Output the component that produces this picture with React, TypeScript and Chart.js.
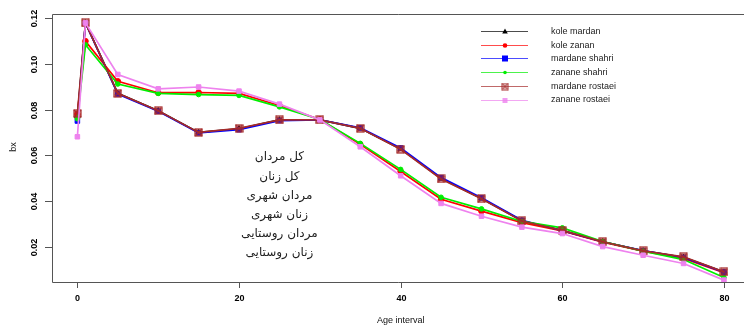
import React, { useEffect, useRef } from 'react';
import { Chart, registerables } from 'chart.js';
Chart.register(...registerables);

const ages = [0, 1, 5, 10, 15, 20, 25, 30, 35, 40, 45, 50, 55, 60, 65, 70, 75, 80];

const koleMardan = [0.077, 0.118, 0.0871, 0.0795, 0.07, 0.0716, 0.0755, 0.0755, 0.0718, 0.0628, 0.0498, 0.0411, 0.0313, 0.027, 0.0221, 0.0181, 0.0153, 0.0088];
const koleZanan = [0.078, 0.11, 0.0924, 0.0874, 0.0875, 0.0871, 0.0818, 0.0757, 0.0648, 0.0529, 0.0407, 0.0355, 0.0305, 0.0268, 0.0219, 0.018, 0.0148, 0.0086];
const mardaneShahri = [0.075, 0.118, 0.0868, 0.0793, 0.0698, 0.0712, 0.0752, 0.0755, 0.072, 0.0632, 0.0502, 0.0414, 0.0315, 0.027, 0.0221, 0.0182, 0.0152, 0.0088];
const zananeShahri = [0.076, 0.1084, 0.0912, 0.0871, 0.0866, 0.0862, 0.0812, 0.0757, 0.0652, 0.0538, 0.0416, 0.0365, 0.031, 0.0282, 0.0222, 0.018, 0.0143, 0.0064];
const mardaneRostaei = [0.0783, 0.118, 0.0871, 0.0795, 0.07, 0.0718, 0.0755, 0.0755, 0.0718, 0.0626, 0.0496, 0.0409, 0.0312, 0.0271, 0.0221, 0.0181, 0.0155, 0.0089];
const zananeRostaei = [0.0681, 0.118, 0.0954, 0.0891, 0.0899, 0.0881, 0.0824, 0.0755, 0.0637, 0.051, 0.0389, 0.0333, 0.0285, 0.0257, 0.02, 0.0162, 0.0126, 0.0053];

const seriesNames = ['kole mardan', 'kole zanan', 'mardane shahri', 'zanane shahri', 'mardane rostaei', 'zanane rostaei'];
const seriesColors = ['#000000', '#ff0000', '#0000ff', '#00ee00', '#a52a2a', '#ee82ee'];

const xTicks = [0, 20, 40, 60, 80];
const yTicks = [0.02, 0.04, 0.06, 0.08, 0.1, 0.12];
const yTickLabels = ['0.02', '0.04', '0.06', '0.08', '0.10', '0.12'];
const persianLines = ['کل مردان', 'کل زنان', 'مردان شهری', 'زنان شهری', 'مردان روستایی', 'زنان روستایی'];

function boxX(): HTMLCanvasElement {
  const c = document.createElement('canvas');
  c.width = 9; c.height = 9;
  const g = c.getContext('2d')!;
  g.strokeStyle = '#a52a2a';
  g.fillStyle = 'rgba(165,42,42,0.35)';
  g.lineWidth = 1.2;
  g.fillRect(1, 1, 7, 7);
  g.strokeRect(1, 1, 7, 7);
  g.beginPath();
  g.moveTo(1, 1); g.lineTo(8, 8);
  g.moveTo(8, 1); g.lineTo(1, 8);
  g.stroke();
  return c;
}

export default function App() {
  const ref = useRef<HTMLCanvasElement>(null);
  useEffect(() => {
    const canvas = ref.current!;
    const bx = boxX();
    const allSeries = [koleMardan, koleZanan, mardaneShahri, zananeShahri, mardaneRostaei, zananeRostaei];
    const styles: any[] = ['triangle', 'circle', 'rect', 'circle', bx, 'rect'];
    const radii = [3.2, 2.8, 3.2, 2.3, 4.5, 3.2];
    const datasets = allSeries.map((s, i) => ({
      label: seriesNames[i],
      data: s.map((v, j) => ({ x: ages[j], y: v })),
      borderColor: seriesColors[i],
      backgroundColor: seriesColors[i],
      pointBackgroundColor: seriesColors[i],
      pointBorderColor: seriesColors[i],
      borderWidth: 1.7,
      pointStyle: styles[i],
      pointRadius: radii[i],
      pointBorderWidth: 1,
      tension: 0,
      order: 6 - i,
    }));

    const deco = {
      id: 'deco',
      afterDraw(chart: any) {
        const ctx = chart.ctx as CanvasRenderingContext2D;
        const a = chart.chartArea;
        const xs = chart.scales.x;
        const ys = chart.scales.y;
        ctx.save();
        ctx.strokeStyle = '#555';
        ctx.lineWidth = 1;
        ctx.beginPath();
        ctx.moveTo(744, a.top + 0.5);
        ctx.lineTo(a.left + 0.5, a.top + 0.5);
        ctx.lineTo(a.left + 0.5, a.bottom + 0.5);
        ctx.lineTo(744, a.bottom + 0.5);
        ctx.stroke();
        ctx.fillStyle = '#000';
        ctx.font = 'bold 9px "Liberation Sans", Arial, sans-serif';
        ctx.textAlign = 'center';
        ctx.textBaseline = 'middle';
        xTicks.forEach((t) => {
          const px = Math.round(xs.getPixelForValue(t)) + 0.5;
          ctx.beginPath();
          ctx.moveTo(px, a.bottom);
          ctx.lineTo(px, a.bottom + 6);
          ctx.stroke();
          ctx.fillText(String(t), px, a.bottom + 17);
        });
        yTicks.forEach((t, i) => {
          const py = Math.round(ys.getPixelForValue(t)) + 0.5;
          ctx.beginPath();
          ctx.moveTo(a.left, py);
          ctx.lineTo(a.left - 7, py);
          ctx.stroke();
          ctx.save();
          ctx.translate(35, py);
          ctx.rotate(-Math.PI / 2);
          ctx.fillText(yTickLabels[i], 0, 0);
          ctx.restore();
        });
        ctx.font = '9px "Liberation Sans", Arial, sans-serif';
        ctx.fillStyle = '#111';
        ctx.fillText('Age interval', xs.getPixelForValue(40), 321);
        ctx.save();
        ctx.translate(14, 147);
        ctx.rotate(-Math.PI / 2);
        ctx.fillText('bx', 0, 0);
        ctx.restore();
        ctx.textAlign = 'left';
        seriesNames.forEach((n, i) => {
          const y = 31 + i * 13.7;
          ctx.strokeStyle = seriesColors[i];
          ctx.globalAlpha = 0.7;
          ctx.lineWidth = 1;
          ctx.beginPath();
          ctx.moveTo(481, Math.round(y) + 0.5);
          ctx.lineTo(528, Math.round(y) + 0.5);
          ctx.stroke();
          ctx.globalAlpha = 1;
          ctx.fillStyle = seriesColors[i];
          const cx = 505, cy = Math.round(y) + 0.5;
          if (i === 0) {
            ctx.beginPath();
            ctx.moveTo(cx, cy - 3); ctx.lineTo(cx + 2.8, cy + 2); ctx.lineTo(cx - 2.8, cy + 2); ctx.closePath(); ctx.fill();
          } else if (i === 1) {
            ctx.beginPath(); ctx.arc(cx, cy, 2.3, 0, Math.PI * 2); ctx.fill();
          } else if (i === 2) {
            ctx.fillRect(cx - 3, cy - 3, 6, 6);
          } else if (i === 3) {
            ctx.beginPath(); ctx.arc(cx, cy, 1.8, 0, Math.PI * 2); ctx.fill();
          } else if (i === 4) {
            ctx.globalAlpha = 0.8;
            ctx.drawImage(bx, cx - 4, cy - 4, 8, 8);
            ctx.globalAlpha = 1;
          } else {
            ctx.globalAlpha = 0.8;
            ctx.fillRect(cx - 2.5, cy - 2.5, 5, 5);
            ctx.globalAlpha = 1;
          }
          ctx.fillStyle = '#222';
          ctx.fillText(n, 551, y + 0.5);
        });
        ctx.textAlign = 'center';
        ctx.fillStyle = '#222';
        ctx.font = '12px "DejaVu Sans", sans-serif';
        const cx = xs.getPixelForValue(25);
        const cy = ys.getPixelForValue(0.0381);
        persianLines.forEach((l, i) => {
          ctx.fillText(l, cx, cy + (i - 2.5) * 19.2);
        });
        ctx.restore();
      },
    };

    const chart = new Chart(canvas, {
      type: 'line',
      data: { datasets },
      options: {
        animation: false,
        responsive: false,
        layout: { padding: { left: 52, top: 14, right: 0, bottom: 46 } },
        scales: {
          x: { type: 'linear', min: -3.14, max: 81.8, display: false },
          y: { type: 'linear', min: 0.00447, max: 0.12189, display: false },
        },
        plugins: { legend: { display: false }, tooltip: { enabled: false } },
      },
      plugins: [deco],
    });
    return () => chart.destroy();
  }, []);
  return (
    <div style={{ position: 'fixed', left: 0, top: 0, width: 744, height: 328, background: '#fff' }}>
      <canvas ref={ref} width={744} height={328} style={{ width: 744, height: 328 }} />
    </div>
  );
}
